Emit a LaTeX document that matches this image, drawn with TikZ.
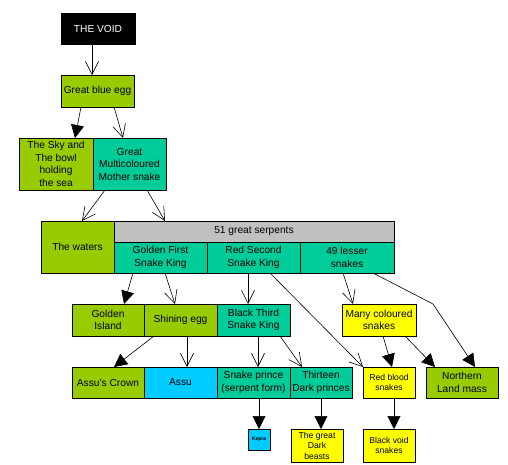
\documentclass[tikz,border=0pt]{standalone}
\usepackage{fontspec}
\setmainfont{Liberation Sans}
\usetikzlibrary{positioning,arrows.meta}
\definecolor{leaf}{HTML}{99CC00}
\definecolor{sea}{HTML}{00CC99}
\definecolor{aqua}{HTML}{00CCFF}
\definecolor{sun}{HTML}{FFFF00}
\definecolor{ash}{HTML}{C0C0C0}
\tikzset{
  box/.style={draw, line width=0.9pt, inner sep=1pt, outer sep=0pt, align=center,
    font=\fontsize{10.2}{12.5}\selectfont},
  small/.style={font=\fontsize{8.6}{10.5}\selectfont},
  open/.style={-{Straight Barb[length=13pt,width=13pt]}, line width=0.6pt},
  shut/.style={-{Triangle[length=13pt,width=13pt]}, line width=0.6pt},
}
\begin{document}
\begin{tikzpicture}[x=1pt, y=-1pt]
  \useasboundingbox (0,0) rectangle (508,464);

  \node (void) [box, fill=black, text=white, minimum width=74pt, minimum height=31pt, anchor=north west] at (61,13) {THE VOID};
  \node (egg) [box, fill=leaf, minimum width=73pt, minimum height=32pt, anchor=north west] at (61,75) {Great blue egg};

  \node (bowl) [box, fill=leaf, minimum width=74pt, minimum height=52pt, anchor=north west] at (19,138) {The Sky and\\The bowl\\holding\\the sea};
  \node (mother) [right=0pt of bowl, box, fill=sea, minimum width=73pt, minimum height=52pt] {Great\\Multicoloured\\Mother snake};

  \node (waters) [box, fill=leaf, minimum width=73pt, minimum height=52pt, anchor=north west] at (41,221) {The waters};
  \node (serpents) [below right=0pt and 0pt of waters.north east, box, fill=ash, minimum width=280pt, minimum height=21pt] {51 great serpents};
  \node (golden) [below right=0pt and 0pt of serpents.south west, box, fill=sea, minimum width=93pt, minimum height=31pt] {Golden First\\Snake King};
  \node (red) [right=0pt of golden, box, fill=sea, minimum width=93pt, minimum height=31pt] {Red Second\\Snake King};
  \node (lesser) [right=0pt of red, box, fill=sea, minimum width=94pt, minimum height=31pt] {49 lesser\\snakes};

  \node (island) [box, fill=leaf, minimum width=72pt, minimum height=32pt, anchor=north west] at (72,304) {Golden\\Island};
  \node (shining) [right=0pt of island, box, fill=leaf, minimum width=73pt, minimum height=32pt] {Shining egg};
  \node (third) [right=0pt of shining, box, fill=sea, minimum width=73pt, minimum height=32pt] {Black Third\\Snake King};
  \node (many) [box, fill=sun, minimum width=74pt, minimum height=32pt, anchor=north west] at (342,304) {Many coloured\\snakes};

  \node (crown) [box, fill=leaf, minimum width=72pt, minimum height=31pt, anchor=north west] at (72,367) {Assu's Crown};
  \node (assu) [right=0pt of crown, box, fill=aqua, minimum width=73pt, minimum height=31pt] {Assu};
  \node (prince) [right=0pt of assu, box, fill=sea, minimum width=73pt, minimum height=31pt] {Snake prince\\(serpent form)};
  \node (thirteen) [right=0pt of prince, box, fill=sea, minimum width=62pt, minimum height=31pt] {Thirteen\\Dark princes};
  \node (redblood) [box, small, fill=sun, minimum width=52pt, minimum height=31pt, anchor=north west] at (363,367) {Red blood\\snakes};
  \node (northern) [box, fill=leaf, minimum width=72pt, minimum height=31pt, anchor=north west] at (426,367) {Northern\\Land mass};

  \node (kepra) [box, fill=aqua, minimum width=22pt, minimum height=21pt, anchor=north west, font=\fontsize{5}{6}\selectfont\bfseries] at (248,429) {Kepra};
  \node (beasts) [box, small, fill=sun, minimum width=52pt, minimum height=33pt, anchor=north west] at (291,429) {The great\\Dark\\beasts};
  \node (blackvoid) [box, small, fill=sun, minimum width=52pt, minimum height=33pt, anchor=north west] at (363,429) {Black void\\snakes};

  \coordinate (bend) at (433,304);

  \draw [open] ([xshift=-6pt]void.south) -- ([xshift=-5.5pt]egg.north);
  \draw [shut] ([xshift=-16.5pt]egg.south) -- ([xshift=19pt]bowl.north);
  \draw [open] ([xshift=16.5pt]egg.south) -- ([xshift=-6.5pt]mother.north);
  \draw [open] ([xshift=-24.5pt]mother.south) -- ([xshift=4.5pt]waters.north);
  \draw [open] ([xshift=17.5pt]mother.south) -- ([xshift=51pt]serpents.north west);
  \draw [shut] ([xshift=-27.5pt]golden.south) -- ([xshift=16pt]island.north);
  \draw [open] ([xshift=4.5pt]golden.south) -- ([xshift=-5.5pt]shining.north);
  \draw [open] ([xshift=-5.5pt]red.south) -- ([xshift=-5.5pt]third.north);
  \draw [open] ([xshift=16.5pt]red.south) -- (redblood.north west);
  \draw [open] ([xshift=-4pt]lesser.south) -- ([xshift=-26pt]many.north);
  \draw [shut] ([xshift=26pt]lesser.south) -- (bend) -- ([xshift=13pt]northern.north);
  \draw [shut] ([xshift=-26.5pt]shining.south) -- ([xshift=6pt]crown.north);
  \draw [open] ([xshift=6.5pt]shining.south) -- ([xshift=6.5pt]assu.north);
  \draw [open] ([xshift=4.5pt]third.south) -- ([xshift=4.5pt]prince.north);
  \draw [open] ([xshift=26.5pt]third.south) -- ([xshift=-19pt]thirteen.north);
  \draw [shut] ([xshift=4pt]many.south) -- ([xshift=3pt]redblood.north);
  \draw [shut] ([xshift=26pt]many.south) -- ([xshift=-27pt]northern.north);
  \draw [shut] (kepra.north |- prince.south) -- (kepra.north);
  \draw [shut] (thirteen.south) -- (thirteen.south |- beasts.north);
  \draw [shut] ([xshift=5pt]redblood.south) -- ([xshift=5pt]blackvoid.north);
\end{tikzpicture}
\end{document}
